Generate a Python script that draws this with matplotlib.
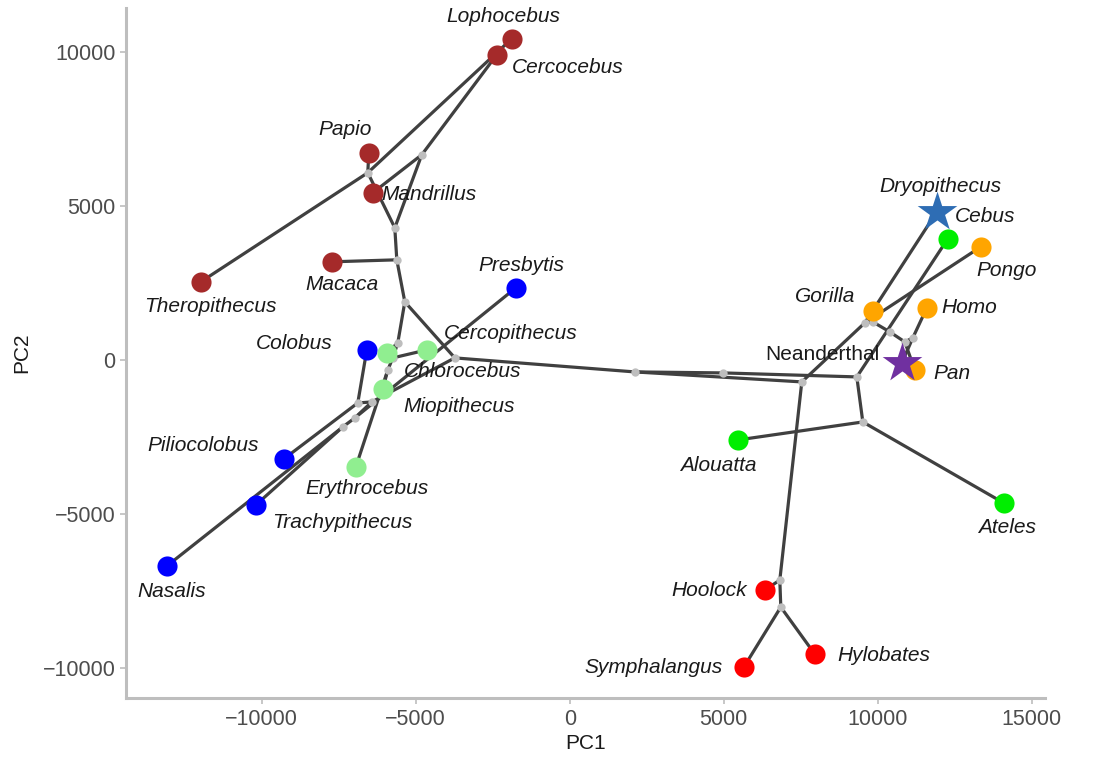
import matplotlib
matplotlib.use("Agg")
import matplotlib.pyplot as plt

plt.rcParams['font.family'] = ['Liberation Sans', 'DejaVu Sans']

# tips (PC1, PC2) and their group
tip_names = ["Lophocebus", "Cercocebus", "Papio", "Mandrillus", "Theropithecus", "Macaca",
             "Presbytis", "Colobus", "Cercopithecus", "Chlorocebus", "Miopithecus",
             "Erythrocebus", "Piliocolobus", "Trachypithecus", "Nasalis",
             "Dryopithecus", "Cebus", "Pongo", "Gorilla", "Homo", "Pan", "Neanderthal",
             "Alouatta", "Ateles", "Hoolock", "Hylobates", "Symphalangus"]
tip_x = [-1883, -2370, -6526, -6396, -11981, -7727,
         -1753, -6591, -4643, -5942, -6071,
         -6948, -9286, -10195, -13085,
         11916, 12273, 13345, 9838, 11592, 11202, 10780,
         5455, 14092, 6332, 7955, 5650]
tip_y = [10422, 9903, 6721, 5422, 2532, 3182,
         2338, 325, 325, 227, -942,
         -3474, -3214, -4708, -6688,
         4805, 3929, 3669, 1591, 1688, -325, -97,
         -2598, -4643, -7468, -9546, -9968]
tip_group = ["papionini"] * 6 + ["colobinae", "colobinae", "cercopithecini", "cercopithecini",
             "cercopithecini", "cercopithecini", "colobinae", "colobinae", "colobinae",
             "dryo", "platyrrhini", "hominidae", "hominidae", "hominidae", "hominidae", "neander",
             "platyrrhini", "platyrrhini", "hylobatidae", "hylobatidae", "hylobatidae"]

# internal (ancestral) nodes
node_names = ["n_cm", "n_plt", "n_pap", "n_papini", "n_cerc", "n_cerco", "n_cc1", "n_cc2",
              "n_cc3", "n_col", "n_af", "n_as", "n_as2", "n_cat", "n_root", "n_hom", "n_pl",
              "n_pl2", "n_hy", "n_hy2", "n_hd", "n_hi", "n_ph", "n_h5", "n_h4"]
node_x = [-4806, -6559, -5682, -5617, -5357, -3734, -5585, -5747,
          -5909, -6429, -6884, -6981, -7371, 2111, 4968, 7533, 9319,
          9514, 6819, 6851, 9578, 9838, 10390, 10877, 11137]
node_y = [6656, 6072, 4286, 3247, 1883, 65, 552, 65,
          -325, -1364, -1396, -1883, -2175, -390, -422, -714, -552,
          -2013, -7143, -8020, 1201, 1234, 909, 584, 714]

edges = [("n_root", "n_pl"), ("n_root", "n_cat"), ("n_cat", "n_cerco"), ("n_cat", "n_hom"),
         ("n_cerco", "n_cerc"), ("n_cerco", "n_col"),
         ("n_cerc", "n_papini"), ("n_cerc", "n_cc1"),
         ("n_papini", "Macaca"), ("n_papini", "n_pap"),
         ("n_pap", "n_cm"), ("n_pap", "n_plt"),
         ("n_cm", "Cercocebus"), ("n_cm", "Mandrillus"),
         ("n_plt", "Theropithecus"), ("n_plt", "Papio"), ("n_plt", "Lophocebus"),
         ("n_cc1", "Chlorocebus"), ("n_cc1", "n_cc2"),
         ("n_cc2", "Cercopithecus"), ("n_cc2", "n_cc3"),
         ("n_cc3", "Miopithecus"), ("n_cc3", "Erythrocebus"),
         ("n_col", "n_af"), ("n_col", "n_as"),
         ("n_af", "Colobus"), ("n_af", "Piliocolobus"),
         ("n_as", "Presbytis"), ("n_as", "n_as2"),
         ("n_as2", "Trachypithecus"), ("n_as2", "Nasalis"),
         ("n_pl", "Cebus"), ("n_pl", "n_pl2"), ("n_pl2", "Alouatta"), ("n_pl2", "Ateles"),
         ("n_hom", "n_hy"), ("n_hom", "n_hd"),
         ("n_hy", "Hoolock"), ("n_hy", "n_hy2"), ("n_hy2", "Symphalangus"), ("n_hy2", "Hylobates"),
         ("n_hd", "Dryopithecus"), ("n_hd", "Pongo"), ("n_hd", "n_hi"),
         ("n_hi", "Gorilla"), ("n_hi", "n_ph"),
         ("n_ph", "n_h5"), ("n_h5", "Pan"), ("n_h5", "n_h4"),
         ("n_h4", "Homo"), ("n_h4", "Neanderthal")]

# styling
colors = {"papionini": "#A52A2A", "colobinae": "#0000FF", "cercopithecini": "#90EE90",
          "platyrrhini": "#00EE00", "hominidae": "#FFA500", "hylobatidae": "#FF0000",
          "dryo": "#2E6DB4", "neander": "#7030A0"}
# label offsets in pixels (dx, dy)
label_off = {"Lophocebus": (-8, 22), "Cercocebus": (71, -13), "Papio": (-24, 23),
             "Mandrillus": (56, -2), "Theropithecus": (10, -25), "Macaca": (10, -23),
             "Presbytis": (6, 22), "Colobus": (-73, 6), "Cercopithecus": (84, 16),
             "Chlorocebus": (76, -19), "Miopithecus": (76, -18), "Erythrocebus": (11, -22),
             "Piliocolobus": (-81, 13), "Trachypithecus": (87, -17), "Nasalis": (5, -25),
             "Dryopithecus": (4, 25), "Cebus": (37, 22), "Pongo": (26, -24),
             "Gorilla": (-48, 14), "Homo": (42, 0), "Neanderthal": (-79, 8), "Pan": (37, -4),
             "Alouatta": (-20, -26), "Ateles": (3, -24), "Hoolock": (-56, 0),
             "Symphalangus": (-90, 0), "Hylobates": (69, -1)}

pos = {}
for n, x, y in zip(tip_names, tip_x, tip_y):
    pos[n] = (x, y)
for n, x, y in zip(node_names, node_x, node_y):
    pos[n] = (x, y)

fig = plt.figure(figsize=(10.94, 7.63), dpi=100)
ax = fig.add_axes([0.115, 0.085, 0.84, 0.905])

for a, b in edges:
    ax.plot([pos[a][0], pos[b][0]], [pos[a][1], pos[b][1]], color="#404040",
            lw=2.3, solid_capstyle="round", zorder=1)
ax.scatter(node_x, node_y, s=36, color="#BEBEBE", zorder=2, linewidths=0)

for n, x, y, g in zip(tip_names, tip_x, tip_y, tip_group):
    if g in ("dryo", "neander"):
        continue
    ax.scatter(x, y, s=210, color=colors[g], zorder=3, linewidths=0)

for n, x, y, g in zip(tip_names, tip_x, tip_y, tip_group):
    style = "normal" if n == "Neanderthal" else "italic"
    ax.annotate(n, (x, y), xytext=label_off[n], textcoords="offset pixels",
                ha="center", va="center", fontsize=15, fontstyle=style,
                color="#1A1A1A", zorder=4)

for n, x, y, g in zip(tip_names, tip_x, tip_y, tip_group):
    if g in ("dryo", "neander"):
        ax.scatter(x, y, s=900, marker="*", color=colors[g], zorder=5, linewidths=0)

ax.set_xlim(-14416, 15422)
ax.set_ylim(-10974, 11429)
ax.set_xticks([-10000, -5000, 0, 5000, 10000, 15000])
ax.set_yticks([-10000, -5000, 0, 5000, 10000])
for s in ("top", "right"):
    ax.spines[s].set_visible(False)
for s in ("left", "bottom"):
    ax.spines[s].set_color("#BEBEBE")
    ax.spines[s].set_linewidth(2.2)
ax.tick_params(colors="#4D4D4D", labelsize=15.5, length=4, width=1.2)
ax.tick_params(axis="both", color="#BEBEBE")
ax.set_xlabel("PC1", fontsize=15, color="#1A1A1A", labelpad=3)
ax.set_ylabel("PC2", fontsize=15, color="#1A1A1A", labelpad=8)

fig.savefig("out.png", dpi=100)
